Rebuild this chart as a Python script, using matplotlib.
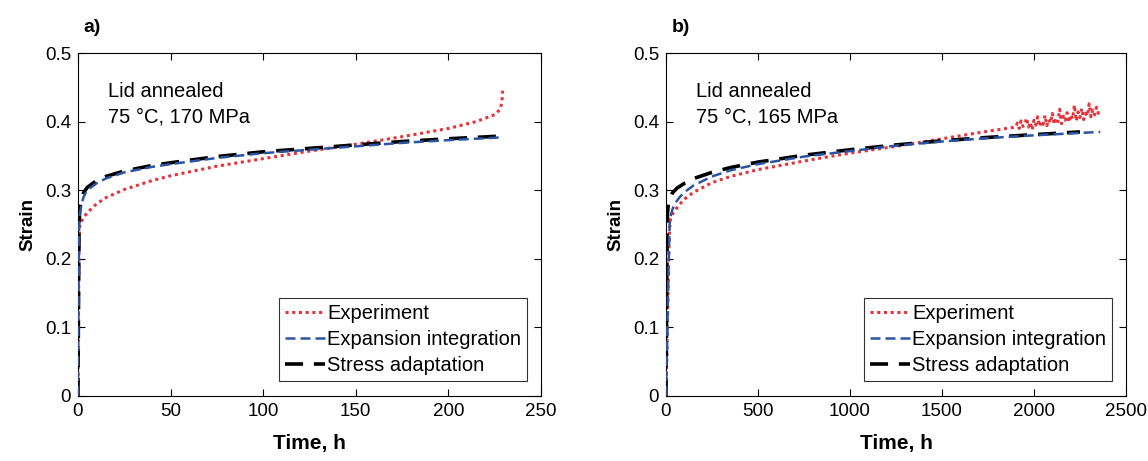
import numpy as np
import matplotlib.pyplot as plt

plt.rcParams['font.family'] = ['Liberation Sans', 'DejaVu Sans']

# panel a: 75 C, 170 MPa
ta_exp = [0, 0.3, 0.6, 1, 2, 3, 5, 10, 15, 25, 40, 50, 75, 100, 125, 150, 175, 200, 215, 225, 228, 229, 229.3]
ya_exp = [0, 0.12, 0.22, 0.25, 0.255, 0.26, 0.267, 0.28, 0.289, 0.301, 0.314, 0.321, 0.335, 0.346, 0.357, 0.367, 0.378, 0.39, 0.40, 0.41, 0.418, 0.43, 0.445]
ta_exp_int = [0, 0.3, 0.6, 1, 2, 3, 5, 10, 15, 25, 40, 50, 75, 100, 125, 150, 175, 200, 229]
ya_exp_int = [0, 0.13, 0.24, 0.265, 0.28, 0.29, 0.30, 0.31, 0.317, 0.326, 0.334, 0.338, 0.347, 0.354, 0.359, 0.364, 0.369, 0.373, 0.377]
ta_str = [0, 0.3, 0.6, 1, 2, 3, 5, 10, 15, 25, 40, 50, 75, 100, 125, 150, 175, 200, 229]
ya_str = [0, 0.14, 0.25, 0.275, 0.288, 0.296, 0.304, 0.314, 0.32, 0.328, 0.336, 0.34, 0.349, 0.356, 0.361, 0.366, 0.371, 0.375, 0.379]

# panel b: 75 C, 165 MPa
tb_exp = [0, 5, 10, 15, 20, 25, 35, 50, 70, 100, 150, 250, 350, 500, 600, 800, 1000, 1250, 1500, 1750, 1900,
          1910, 1920, 1930, 1940, 1950, 1960, 1970, 1980, 1990, 2000, 2010, 2020, 2030, 2040, 2050,
          2060, 2070, 2080, 2090, 2100, 2110, 2120, 2130, 2140, 2150, 2160, 2170, 2180, 2190, 2200,
          2210, 2220, 2230, 2240, 2250, 2260, 2270, 2280, 2290, 2300, 2310, 2320, 2330, 2340, 2350, 2360]
yb_exp = [0, 0.06, 0.13, 0.20, 0.245, 0.258, 0.265, 0.271, 0.278, 0.287, 0.297, 0.311, 0.32, 0.33, 0.335, 0.345, 0.354, 0.364, 0.375, 0.386, 0.392,
          0.398, 0.390, 0.401, 0.393, 0.396, 0.405, 0.392, 0.399, 0.388, 0.402, 0.395, 0.407, 0.393, 0.400, 0.396,
          0.409, 0.394, 0.403, 0.398, 0.412, 0.396, 0.405, 0.400, 0.418, 0.397, 0.408, 0.402, 0.413, 0.399, 0.410,
          0.404, 0.424, 0.401, 0.414, 0.406, 0.419, 0.403, 0.412, 0.408, 0.426, 0.407, 0.417, 0.410, 0.421, 0.412, 0.418]
tb_exp_int = [0, 5, 10, 15, 20, 25, 35, 50, 75, 100, 150, 250, 350, 500, 750, 1000, 1250, 1500, 1750, 2000, 2360]
yb_exp_int = [0, 0.06, 0.13, 0.20, 0.25, 0.262, 0.272, 0.281, 0.29, 0.297, 0.307, 0.32, 0.329, 0.338, 0.349, 0.357, 0.365, 0.371, 0.376, 0.38, 0.385]
tb_str = [0, 2, 4, 6, 8, 12, 20, 35, 60, 100, 150, 250, 350, 500, 750, 1000, 1250, 1500, 1750, 2000, 2250]
yb_str = [0, 0.07, 0.15, 0.22, 0.265, 0.278, 0.287, 0.296, 0.303, 0.31, 0.317, 0.326, 0.333, 0.341, 0.351, 0.359, 0.366, 0.372, 0.377, 0.381, 0.385]

red = '#e8323a'
blue = '#2b55a3'

fig = plt.figure(figsize=(11.48, 4.61), dpi=100)
ax_a = fig.add_axes([0.0679, 0.141, 0.4033, 0.744])
ax_b = fig.add_axes([0.5801, 0.141, 0.4007, 0.744])

panels = [
    (ax_a, ta_exp, ya_exp, ta_exp_int, ya_exp_int, ta_str, ya_str, 250, [0, 50, 100, 150, 200, 250], 'a)', '170'),
    (ax_b, tb_exp, yb_exp, tb_exp_int, yb_exp_int, tb_str, yb_str, 2500, [0, 500, 1000, 1500, 2000, 2500], 'b)', '165'),
]

for ax, te, ye, ti, yi, ts, ys, xmax, xticks, tag, mpa in panels:
    ax.plot(te, ye, color=red, linestyle=(0, (1, 1.2)), linewidth=2.2, label='Experiment')
    ax.plot(ts, ys, color='black', linestyle=(0, (5, 3)), linewidth=2.6, label='Stress adaptation', zorder=2)
    ax.plot(ti, yi, color=blue, linestyle=(0, (4, 2)), linewidth=1.8, label='Expansion integration', zorder=3)
    ax.set_xlim(0, xmax)
    ax.set_ylim(0, 0.5)
    ax.set_xticks(xticks)
    ax.set_yticks([0, 0.1, 0.2, 0.3, 0.4, 0.5])
    ax.set_yticklabels(['0', '0.1', '0.2', '0.3', '0.4', '0.5'])
    ax.tick_params(direction='in', top=True, right=True, labelsize=13.5, length=5, width=0.8, pad=5)
    for s in ax.spines.values():
        s.set_linewidth(0.8)
    ax.set_xlabel('Time, h', fontsize=15, fontweight='bold', labelpad=10)
    ax.set_ylabel('Strain', fontsize=13.5, fontweight='bold', labelpad=6)
    ax.text(0.065, 0.915, 'Lid annealed\n75 °C, ' + mpa + ' MPa', transform=ax.transAxes,
            fontsize=14.5, va='top', ha='left', linespacing=1.4)
    ax.text(0.012, 1.05, tag, transform=ax.transAxes, fontsize=14, fontweight='bold', va='bottom')
    h, l = ax.get_legend_handles_labels()
    leg = ax.legend([h[0], h[2], h[1]], [l[0], l[2], l[1]], loc='lower right',
                    bbox_to_anchor=(0.97, 0.044), fontsize=14.5, frameon=True, fancybox=False,
                    handlelength=2.0, handletextpad=0.1, borderpad=0.3, labelspacing=0.35,
                    borderaxespad=0)
    leg.get_frame().set_edgecolor('black')
    leg.get_frame().set_linewidth(0.8)

fig.savefig('out.png', dpi=100)
